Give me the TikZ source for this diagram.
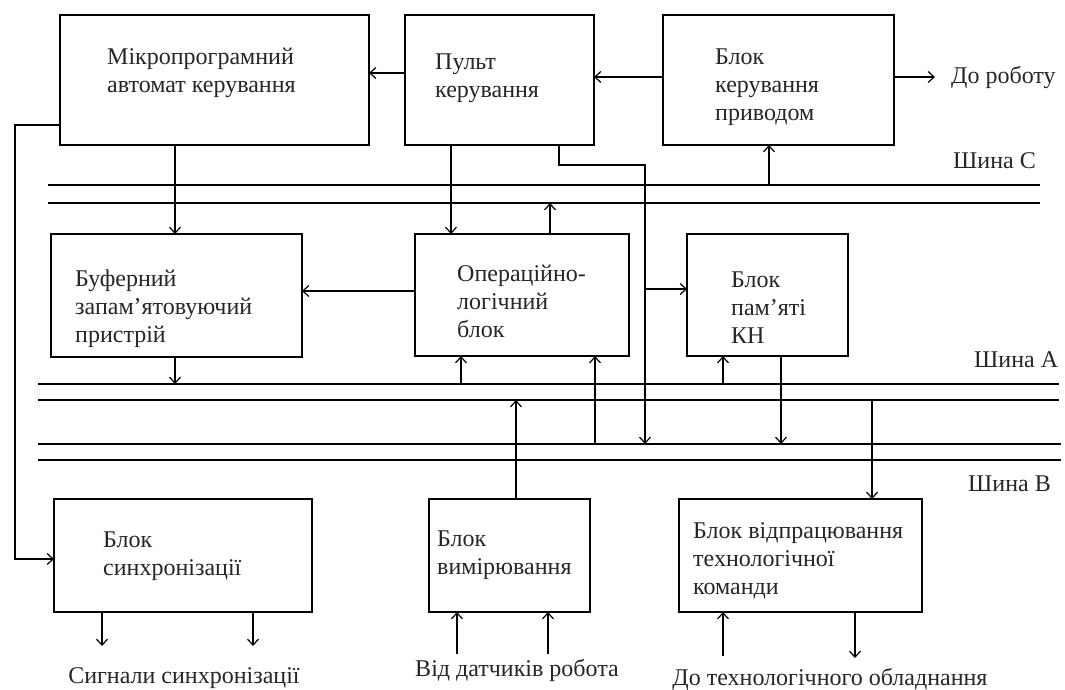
\documentclass[tikz,border=0pt]{standalone}
\usepackage{fontspec}
\setmainfont{Liberation Serif}
\usetikzlibrary{arrows.meta,calc}
\begin{document}
\begin{tikzpicture}[x=1pt,y=-1pt,
  blk/.style={draw, line width=1.6pt, inner sep=0pt, outer sep=0pt, anchor=north west},
  txt/.style={font=\fontsize{24}{28}\selectfont, align=left, inner sep=0pt, anchor=west, text=black!85},
  lbl/.style={font=\fontsize{24}{28}\selectfont, inner sep=0pt, text=black!85},
  ln/.style={line width=1.6pt},
  arr/.style={line width=1.6pt, -{Straight Barb[length=6pt,width=11pt,line width=1.2pt]}}]
\useasboundingbox (0,0) rectangle (1065,689);
\fill[white] (0,0) rectangle (1065,689);

% blocks
\node[blk, minimum width=309pt, minimum height=130pt] (mikro) at (60,15) {};
\node[blk, minimum width=189pt, minimum height=130pt] (pult)  at (405,15) {};
\node[blk, minimum width=231pt, minimum height=130pt] (bkp)   at (663,15) {};
\node[blk, minimum width=251pt, minimum height=123pt] (buf)   at (51,234) {};
\node[blk, minimum width=214pt, minimum height=122pt] (olb)   at (415,234) {};
\node[blk, minimum width=161pt, minimum height=122pt] (bp)    at (687,234) {};
\node[blk, minimum width=258pt, minimum height=113pt] (sync)  at (54,499) {};
\node[blk, minimum width=161pt, minimum height=113pt] (bv)    at (429,499) {};
\node[blk, minimum width=243pt, minimum height=113pt] (bvtk)  at (679,499) {};

% block captions
\node[txt] (mikroT) at (107,73)  {Мікропрограмний\\автомат керування};
\node[txt] (pultT)  at (435,78)  {Пульт\\керування};
\node[txt] (bkpT)   at (715,87)  {Блок\\керування\\приводом};
\node[txt] (bufT)   at (75,309)  {Буферний\\запам’ятовуючий\\пристрій};
\node[txt] (olbT)   at (457,301) {Операційно-\\логічний\\блок};
\node[txt] (bpT)    at (731,308) {Блок\\пам’яті\\КН};
\node[txt] (syncT)  at (103,556) {Блок\\синхронізації};
\node[txt] (bvT)    at (437,555) {Блок\\вимірювання};
\node[txt] (bvtkT)  at (693,561) {Блок відпрацювання\\технологічної\\команди};

% outer labels
\node[lbl, anchor=west] (robot) at (951,77)  {До роботу};
\node[lbl, anchor=west] (shC)   at (953,161) {Шина С};
\node[lbl, anchor=west] (shA)   at (974,360) {Шина А};
\node[lbl, anchor=west] (shB)   at (968,484) {Шина В};
\node[lbl] (sigT)  at (184,678) {Сигнали синхронізації};
\node[lbl] (vidT)  at (517,670) {Від датчиків робота};
\node[lbl] (techT) at (830,679) {До технологічного обладнання};

% buses
\coordinate (cTl) at (48,185);  \coordinate (cTr) at (1040,185);
\coordinate (cBl) at (48,203);  \coordinate (cBr) at (1040,203);
\coordinate (aTl) at (38,384);  \coordinate (aTr) at (1059,384);
\coordinate (aBl) at (38,400);  \coordinate (aBr) at (1059,400);
\coordinate (bTl) at (38,444);  \coordinate (bTr) at (1061,444);
\coordinate (bBl) at (38,460);  \coordinate (bBr) at (1061,460);
\draw[ln] (cTl) -- (cTr);  \draw[ln] (cBl) -- (cBr);
\draw[ln] (aTl) -- (aTr);  \draw[ln] (aBl) -- (aBr);
\draw[ln] (bTl) -- (bTr);  \draw[ln] (bBl) -- (bBr);

% free ends
\coordinate (robotIn) at (935,77);
\coordinate (pultTurn) at (645,165);
\coordinate (bpFork) at (645,289);
\coordinate (mkTurn) at (15,559);
\coordinate (sig1) at (102,646);  \coordinate (sig2) at (253,646);
\coordinate (dat1) at (457,654);  \coordinate (dat2) at (548,654);
\coordinate (tin)  at (723,656);  \coordinate (tout) at (855,658);

% top row
\draw[arr] (pult.west |- 0,73) -- (mikro.east |- 0,73);
\draw[arr] (bkp.west |- 0,77) -- (pult.east |- 0,77);
\draw[arr] (bkp.east |- robotIn) -- (robotIn);
\draw[arr] (mikro.south -| 175,0) -- (buf.north -| 175,0);
\draw[arr] (pult.south -| 451,0) -- (olb.north -| 451,0);
\draw[arr] (pult.south -| 559,0) |- (pultTurn) -- (bTl -| pultTurn);
\draw[arr] (bpFork) -- (bp.west |- bpFork);
\draw[arr] (cTl -| 769,0) -- (bkp.south -| 769,0);
\draw[arr] (olb.north -| 550,0) -- (cBl -| 550,0);

% middle row
\draw[arr] (olb.west |- 0,291) -- (buf.east |- 0,291);
\draw[arr] (buf.south -| 175,0) -- (aTl -| 175,0);
\draw[arr] (aTl -| 461,0) -- (olb.south -| 461,0);
\draw[arr] (bTl -| 595,0) -- (olb.south -| 595,0);
\draw[arr] (aTl -| 723,0) -- (bp.south -| 723,0);
\draw[arr] (bp.south -| 781,0) -- (bTl -| 781,0);
\draw[arr] (aBl -| 872,0) -- (bvtk.north -| 872,0);
\draw[arr] (bv.north -| 516,0) -- (aBl -| 516,0);

% bottom row
\draw[arr] (mikro.west |- 0,125) -| (mkTurn) -- (sync.west |- mkTurn);
\draw[arr] (sync.south -| sig1) -- (sig1);
\draw[arr] (sync.south -| sig2) -- (sig2);
\draw[arr] (dat1) -- (bv.south -| dat1);
\draw[arr] (dat2) -- (bv.south -| dat2);
\draw[arr] (tin) -- (bvtk.south -| tin);
\draw[arr] (bvtk.south -| tout) -- (tout);
\end{tikzpicture}
\end{document}
